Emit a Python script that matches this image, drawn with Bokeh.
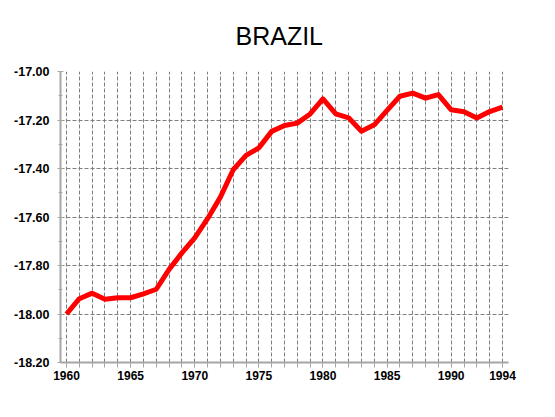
from bokeh.plotting import figure
from bokeh.models import FixedTicker, NumeralTickFormatter, Range1d, Title
from bokeh.embed import file_html
from bokeh.resources import INLINE

years = list(range(1960, 1995))
values = [-18.00, -17.937, -17.914, -17.939, -17.933, -17.933, -17.917, -17.898,
          -17.816, -17.748, -17.686, -17.607, -17.518, -17.405, -17.346, -17.315,
          -17.247, -17.223, -17.213, -17.175, -17.113, -17.175, -17.191, -17.246,
          -17.220, -17.160, -17.102, -17.089, -17.110, -17.095, -17.158, -17.166,
          -17.192, -17.165, -17.147]
x_tick_labels = [1960, 1965, 1970, 1975, 1980, 1985, 1990, 1994]
y_ticks = [-18.2, -18.0, -17.8, -17.6, -17.4, -17.2, -17.0]
y_minor = [round(-18.2 + 0.1 * i, 1) for i in range(13)]
title_text = "BRAZIL"

FONT = "Liberation Sans"
AXIS_COLOR = "#a6a6a6"
GRID_COLOR = "#7f7f7f"

p = figure(width=547, height=409, output_backend="svg", toolbar_location=None,
           x_range=Range1d(1959.53, 1994.47), y_range=Range1d(-18.2, -17.0),
           min_border_left=60, min_border_right=39, min_border_top=71,
           min_border_bottom=47)
p.outline_line_color = None
p.background_fill_color = "white"
p.border_fill_color = "white"

# spacer between title and frame
p.add_layout(Title(text=" ", text_font_size="4px", text_font=FONT), "above")
p.add_layout(Title(text=title_text, text_font=FONT, text_font_size="25px",
                   text_font_style="normal", text_color="black",
                   align="left", offset=175), "above")

# x axis
p.xaxis.ticker = FixedTicker(ticks=x_tick_labels, minor_ticks=years)
p.xaxis.axis_line_color = AXIS_COLOR
p.xaxis.axis_line_width = 2
p.xaxis.major_tick_line_color = AXIS_COLOR
p.xaxis.minor_tick_line_color = AXIS_COLOR
p.xaxis.major_tick_in = 0
p.xaxis.major_tick_out = 5
p.xaxis.minor_tick_in = 0
p.xaxis.minor_tick_out = 5
p.xaxis.major_label_text_font = FONT
p.xaxis.major_label_text_font_style = "bold"
p.xaxis.major_label_text_font_size = "12px"
p.xaxis.major_label_text_color = "black"
p.xaxis.major_label_standoff = 3

# y axis
p.yaxis.ticker = FixedTicker(ticks=y_ticks, minor_ticks=y_minor)
p.yaxis.formatter = NumeralTickFormatter(format="0.00")
p.yaxis.axis_line_color = AXIS_COLOR
p.yaxis.axis_line_width = 2
p.yaxis.major_tick_line_color = AXIS_COLOR
p.yaxis.minor_tick_line_color = AXIS_COLOR
p.yaxis.major_tick_in = 3
p.yaxis.major_tick_out = 3
p.yaxis.minor_tick_in = 2
p.yaxis.minor_tick_out = 2
p.yaxis.major_label_text_font = FONT
p.yaxis.major_label_text_font_style = "bold"
p.yaxis.major_label_text_font_size = "12.5px"
p.yaxis.major_label_text_color = "black"
p.yaxis.major_label_standoff = 8

# grids
p.xgrid.ticker = FixedTicker(ticks=years)
p.xgrid.grid_line_color = GRID_COLOR
p.xgrid.grid_line_dash = "4 2"
p.xgrid.grid_line_width = 1
p.ygrid.ticker = FixedTicker(ticks=y_ticks[1:-1])
p.ygrid.grid_line_color = GRID_COLOR
p.ygrid.grid_line_dash = "4 2"
p.ygrid.grid_line_width = 1

p.line(years, values, line_color="#ff0000", line_width=5, line_join="round")

open("out.html", "w").write(file_html(p, INLINE))
